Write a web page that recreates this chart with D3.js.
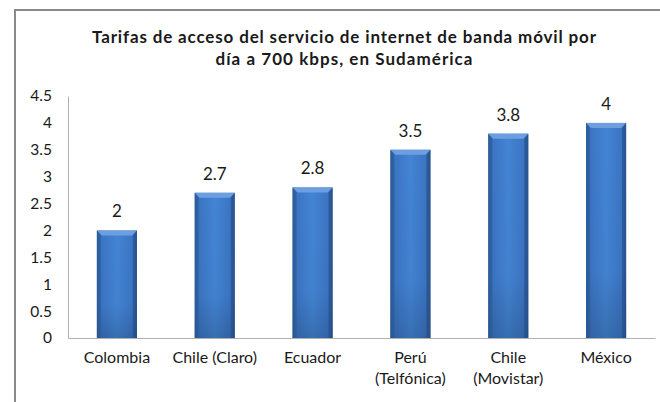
<!DOCTYPE html>
<html>
<head>
<meta charset="utf-8">
<script src="https://cdn.jsdelivr.net/npm/d3@7"></script>
<style>
  html, body { margin: 0; padding: 0; background: #fff; }
  svg { display: block; }
  text { font-family: Lato, "Open Sans", sans-serif; fill: #1a1a1a; }
</style>
</head>
<body>
<svg id="chart" width="660" height="402"></svg>
<script>
const categories = ["Colombia", "Chile (Claro)", "Ecuador", "Perú (Telfónica)", "Chile (Movistar)", "México"];
const categoryLines = [["Colombia"], ["Chile (Claro)"], ["Ecuador"], ["Perú", "(Telfónica)"], ["Chile", "(Movistar)"], ["México"]];
const values = [2, 2.7, 2.8, 3.5, 3.8, 4];
const yTicks = [0, 0.5, 1, 1.5, 2, 2.5, 3, 3.5, 4, 4.5];
const titleLines = ["Tarifas de acceso del servicio de internet de banda  móvil por", "día a 700 kbps, en Sudamérica"];

const svg = d3.select("#chart");
const plot = { left: 68, right: 655, top: 96, bottom: 338 };

// frame
svg.append("rect")
  .attr("x", 15).attr("y", 10)
  .attr("width", 700).attr("height", 500)
  .attr("fill", "none").attr("stroke", "#8a8a8a").attr("stroke-width", 2);

// gradients
const defs = svg.append("defs");
const gH = defs.append("linearGradient").attr("id", "barH").attr("x1", 0).attr("x2", 1).attr("y1", 0).attr("y2", 0);
[["0%", "#2c5b9a"], ["12%", "#3b75c3"], ["50%", "#4384d4"], ["88%", "#3b75c3"], ["100%", "#2c5b9a"]]
  .forEach(([o, c]) => gH.append("stop").attr("offset", o).attr("stop-color", c));
const gV = defs.append("linearGradient").attr("id", "barV").attr("x1", 0).attr("x2", 0).attr("y1", 0).attr("y2", 1);
[["0%", "#000", 0], ["70%", "#000", 0.02], ["100%", "#000", 0.16]]
  .forEach(([o, c, a]) => gV.append("stop").attr("offset", o).attr("stop-color", c).attr("stop-opacity", a));

const x = d3.scaleBand().domain(categories).range([plot.left, plot.right]).paddingInner(0.59).paddingOuter(0.295);
const y = d3.scaleLinear().domain([0, 4.5]).range([plot.bottom, plot.top]);

// title
const titleWidths = [504, 257];
const title = svg.append("text")
  .attr("text-anchor", "middle")
  .style("font-weight", "bold").style("font-size", "17px");
titleLines.forEach((t, i) => {
  title.append("tspan").attr("x", 344).attr("y", 43 + i * 22)
    .attr("textLength", titleWidths[i]).attr("lengthAdjust", "spacing").text(t);
});

// y axis
const yAxis = d3.axisLeft(y).tickValues(yTicks).tickSize(0).tickPadding(16).tickFormat(d => String(d));
const gy = svg.append("g").attr("transform", `translate(${plot.left},0)`).call(yAxis);
gy.select(".domain").attr("stroke", "#b0b0b0").attr("stroke-width", 1);
gy.selectAll("text").style("font-family", "Lato, 'Open Sans', sans-serif").style("font-size", "15.5px").attr("fill", "#1a1a1a");

// x axis
const xAxis = d3.axisBottom(x).tickSize(0).tickFormat("");
const gx = svg.append("g").attr("transform", `translate(0,${plot.bottom})`).call(xAxis);
gx.select(".domain").attr("stroke", "#b0b0b0").attr("stroke-width", 1);

// category labels
categories.forEach((c, i) => {
  const t = svg.append("text")
    .attr("text-anchor", "middle")
    .style("font-size", "16px");
  categoryLines[i].forEach((line, j) => {
    t.append("tspan").attr("x", x(c) + x.bandwidth() / 2).attr("y", 363 + j * 21).text(line);
  });
});

// bars
const bars = svg.append("g");
categories.forEach((c, i) => {
  const x0 = x(c), bw = x.bandwidth(), yt = y(values[i]), yb = y(0);
  bars.append("rect").attr("x", x0).attr("y", yt).attr("width", bw).attr("height", yb - yt).attr("fill", "url(#barH)");
  bars.append("rect").attr("x", x0).attr("y", yt).attr("width", bw).attr("height", yb - yt).attr("fill", "url(#barV)");
  // top bevel
  bars.append("polygon")
    .attr("points", `${x0},${yt} ${x0 + bw},${yt} ${x0 + bw - 5},${yt + 5} ${x0 + 5},${yt + 5}`)
    .attr("fill", "#6d9fe0");
  // side edges
  bars.append("polygon")
    .attr("points", `${x0},${yt} ${x0 + 4},${yt + 5} ${x0 + 4},${yb} ${x0},${yb}`)
    .attr("fill", "#2c5b9a").attr("opacity", 0.6);
  bars.append("polygon")
    .attr("points", `${x0 + bw},${yt} ${x0 + bw - 4},${yt + 5} ${x0 + bw - 4},${yb} ${x0 + bw},${yb}`)
    .attr("fill", "#264f88").attr("opacity", 0.6);
  // value label
  svg.append("text")
    .attr("x", x0 + bw / 2).attr("y", yt - 13)
    .attr("text-anchor", "middle")
    .style("font-size", "17px")
    .text(String(values[i]));
});
</script>
</body>
</html>
